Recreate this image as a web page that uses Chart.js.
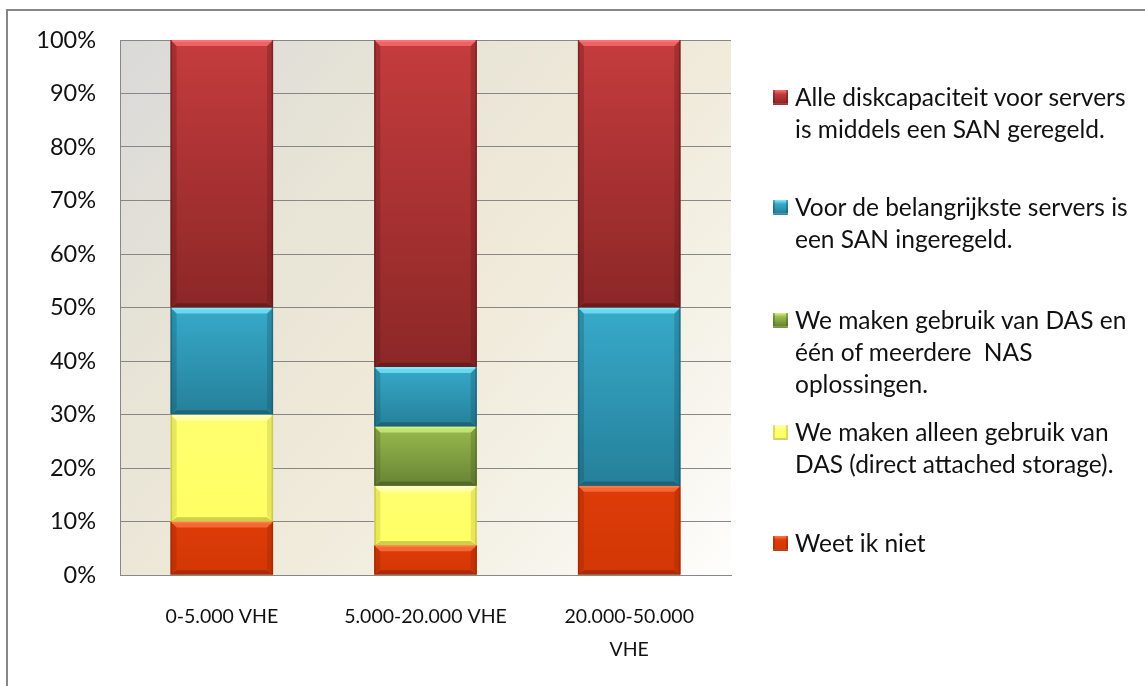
<!DOCTYPE html>
<html>
<head>
<meta charset="utf-8">
<script src="https://cdn.jsdelivr.net/npm/chart.js@4/dist/chart.umd.min.js"></script>
<style>
  html, body { margin: 0; padding: 0; background: #ffffff; width: 1145px; height: 686px; overflow: hidden; }
  #wrap { position: relative; width: 1145px; height: 686px; }
  #frame { position: absolute; left: 6px; top: 9px; right: 0; bottom: 0; border-left: 2px solid #878787; border-top: 2px solid #878787; pointer-events: none; }
  canvas { position: absolute; left: 0; top: 0; }
  #legend { position: absolute; left: 0; top: 0; width: 1145px; height: 686px; pointer-events: none; font-family: Lato, "Open Sans", sans-serif; font-size: 24.5px; color: #111; }
  .item { position: absolute; left: 773px; }
  .sw { position: absolute; left: 0; width: 15px; height: 15px; box-sizing: border-box; }
  .txt { position: absolute; left: 22px; top: 0; white-space: nowrap; line-height: 32px; }
</style>
</head>
<body>
<div id="wrap">
  <canvas id="c" width="1145" height="686"></canvas>
  <div id="frame"></div>
  <div id="legend"></div>
</div>
<script>
// ---- data ----
const categories = ['0-5.000 VHE', '5.000-20.000 VHE', ['20.000-50.000', 'VHE']];
const tickValues = [0, 10, 20, 30, 40, 50, 60, 70, 80, 90, 100];

const seriesNames = [
  'Weet ik niet',
  'We maken alleen gebruik van DAS (direct attached storage).',
  'We maken gebruik van DAS en één of meerdere  NAS oplossingen.',
  'Voor de belangrijkste servers is een SAN ingeregeld.',
  'Alle diskcapaciteit voor servers is middels een SAN geregeld.'
];
const weetIkNiet       = [10, 5.56, 16.67];
const alleenDas        = [20, 11.11, 0];
const dasEnNas         = [0, 11.11, 0];
const belangrijksteSan = [20, 11.11, 33.33];
const alleSan          = [50, 61.11, 50];

// legend lines as wrapped in the reference (top to bottom)
const legendLines = [
  ['Alle diskcapaciteit voor servers', 'is middels een SAN geregeld.'],
  ['Voor de belangrijkste servers is', 'een SAN ingeregeld.'],
  ['We maken gebruik van DAS en', 'één of meerdere  NAS', 'oplossingen.'],
  ['We maken alleen gebruik van', 'DAS (direct attached storage).'],
  ['Weet ik niet']
];

// ---- styles ----
const styles = [
  { base: '#D93A06', top: '#DE3C08', bot: '#D23705', light: '#FF7A48', dark: '#8A2303' },
  { base: '#FFFF66', top: '#FFFF70', bot: '#FFFF62', light: '#FFFFC8', dark: '#A8A83A' },
  { base: '#84A542', top: '#98BB4D', bot: '#678435', light: '#D4F488', dark: '#40541C' },
  { base: '#2F96B3', top: '#37AACA', bot: '#25809A', light: '#80ECFF', dark: '#164C5C' },
  { base: '#AA3233', top: '#C53C3D', bot: '#8C2727', light: '#FF7474', dark: '#561314' }
];
const seriesValues = [weetIkNiet, alleenDas, dasEnNas, belangrijksteSan, alleSan];

const bgPlugin = {
  id: 'plotBg',
  beforeDraw(chart) {
    const { ctx, chartArea: a } = chart;
    const g = ctx.createLinearGradient(a.left, a.top, a.right, a.bottom);
    g.addColorStop(0, '#D9D9D9');
    g.addColorStop(0.3, '#E8E4D6');
    g.addColorStop(0.55, '#EFEAD9');
    g.addColorStop(0.8, '#F6F3EA');
    g.addColorStop(1, '#FEFEFC');
    ctx.save();
    ctx.fillStyle = g;
    ctx.fillRect(a.left, a.top, a.right - a.left, a.bottom - a.top);
    ctx.restore();
  }
};

function poly(ctx, pts, fill) {
  ctx.beginPath();
  ctx.moveTo(pts[0][0], pts[0][1]);
  for (let i = 1; i < pts.length; i++) ctx.lineTo(pts[i][0], pts[i][1]);
  ctx.closePath();
  ctx.fillStyle = fill;
  ctx.fill();
}

const bevelPlugin = {
  id: 'bevel',
  afterDatasetsDraw(chart) {
    const ctx = chart.ctx;
    chart.data.datasets.forEach((ds, di) => {
      const meta = chart.getDatasetMeta(di);
      const st = styles[di];
      meta.data.forEach(el => {
        const p = el.getProps(['x', 'y', 'base', 'width'], true);
        const l = p.x - p.width / 2, r = p.x + p.width / 2;
        const t = Math.min(p.y, p.base), b = Math.max(p.y, p.base);
        const h = b - t;
        if (h < 1) return;
        ctx.save();
        const g = ctx.createLinearGradient(0, t, 0, b);
        g.addColorStop(0, st.top);
        g.addColorStop(1, st.bot);
        ctx.fillStyle = g;
        ctx.fillRect(l, t, r - l, h);
        const bv = Math.min(6, h / 3);
        // side strips
        ctx.globalAlpha = 0.28;
        poly(ctx, [[l, t], [l + bv, t + bv], [l + bv, b - bv], [l, b]], st.dark);
        poly(ctx, [[r, t], [r - bv, t + bv], [r - bv, b - bv], [r, b]], st.dark);
        // bottom shadow
        ctx.globalAlpha = 0.55;
        poly(ctx, [[l, b], [l + bv, b - bv * 0.7], [r - bv, b - bv * 0.7], [r, b]], st.dark);
        // top highlight
        ctx.globalAlpha = 0.7;
        poly(ctx, [[l, t], [r, t], [r - bv, t + bv], [l + bv, t + bv]], st.light);
        ctx.globalAlpha = 0.85;
        ctx.fillStyle = st.light;
        ctx.fillRect(l + 1, t, r - l - 2, Math.min(2, h / 4));
        // outer edges
        ctx.globalAlpha = 0.45;
        ctx.fillStyle = st.dark;
        ctx.fillRect(l, t, 1.5, h);
        ctx.fillRect(r - 1.5, t, 1.5, h);
        ctx.restore();
      });
    });
  }
};

const datasets = seriesNames.map((name, i) => ({
  label: name,
  data: seriesValues[i],
  backgroundColor: styles[i].base,
  borderWidth: 0,
  stack: 's',
  categoryPercentage: 1.0,
  barPercentage: 0.503
}));

const gridColor = '#878787';

new Chart(document.getElementById('c'), {
  type: 'bar',
  data: { labels: categories, datasets },
  options: {
    responsive: false,
    animation: false,
    devicePixelRatio: 1,
    layout: { padding: { top: 40, right: 414, left: 0, bottom: 0 } },
    plugins: { legend: { display: false }, tooltip: { enabled: false }, title: { display: false } },
    scales: {
      x: {
        stacked: true,
        grid: { display: false, drawTicks: false },
        border: { display: true, color: gridColor, width: 1 },
        ticks: {
          color: '#111',
          font: { family: 'Lato', size: 19.5, lineHeight: 1.7 },
          padding: 25,
          maxRotation: 0,
          autoSkip: false
        },
        afterFit(s) { s.height = 111; }
      },
      y: {
        stacked: true,
        min: 0,
        max: 100,
        afterBuildTicks(s) { s.ticks = tickValues.map(v => ({ value: v })); },
        grid: { color: gridColor, lineWidth: 1, drawTicks: false },
        border: { display: true, color: gridColor, width: 1 },
        ticks: {
          color: '#111',
          font: { family: 'Lato', size: 23.5 },
          padding: 24,
          callback: v => v + '%'
        },
        afterFit(s) { s.width = 120; }
      }
    }
  },
  plugins: [bgPlugin, bevelPlugin]
});

// ---- HTML legend (top to bottom = reversed stack order) ----
const legendCenters = [97, 207, 320, 432, 543];
const legend = document.getElementById('legend');
legendLines.forEach((lines, k) => {
  const st = styles[styles.length - 1 - k];
  const item = document.createElement('div');
  item.className = 'item';
  item.style.top = (legendCenters[k] - 16) + 'px';
  const sw = document.createElement('div');
  sw.className = 'sw';
  sw.style.top = (16 - 7.5) + 'px';
  sw.style.background = 'linear-gradient(to bottom, ' + st.light + ' 0px, ' + st.top + ' 4px, ' + st.bot + ' 100%)';
  sw.style.borderLeft = '2px solid ' + st.dark + '66';
  sw.style.borderRight = '2px solid ' + st.dark + '66';
  sw.style.borderBottom = '2px solid ' + st.dark + '88';
  const tx = document.createElement('div');
  tx.className = 'txt';
  tx.innerHTML = lines.map(s => s.replace(/&/g, '&amp;').replace(/</g, '&lt;').replace(/  /g, ' &nbsp;')).join('<br>');
  item.appendChild(sw);
  item.appendChild(tx);
  legend.appendChild(item);
});
</script>
</body>
</html>
